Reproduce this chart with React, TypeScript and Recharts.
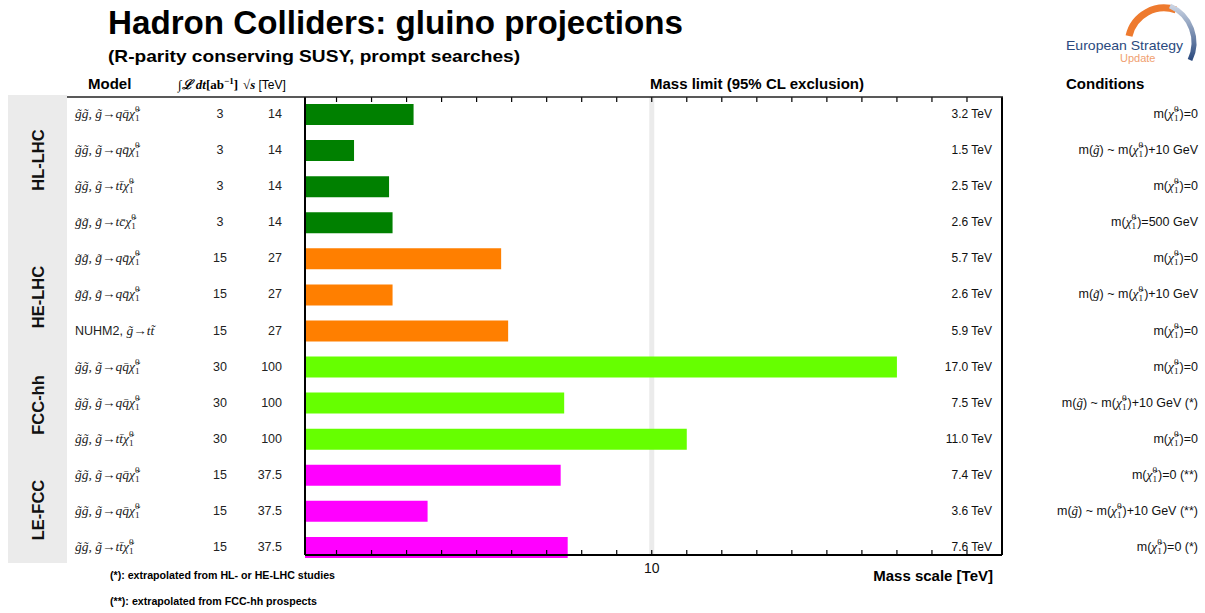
import { BarChart, Bar, XAxis, YAxis, Cell, CartesianGrid } from 'recharts'

const colliders = ['HL-LHC', 'HE-LHC', 'FCC-hh', 'LE-FCC']
const colliderColors = ['#008000', '#ff7f00', '#66ff00', '#ff00ff']
const rowCollider = [0, 0, 0, 0, 1, 1, 1, 2, 2, 2, 3, 3, 3]

const G = 'g\u0303'
const modelProd = [G + G, G + G, G + G, G + G, G + G, G + G, 'NUHM2', G + G, G + G, G + G, G + G, G + G, G + G]
const modelDecay = ['qq\u0304', 'qq\u0304', 'tt\u0304', 'tc\u0304', 'qq\u0304', 'qq\u0304', 'tt\u0303', 'qq\u0304', 'qq\u0304', 'tt\u0304', 'qq\u0304', 'qq\u0304', 'tt\u0304']
const lumi = [3, 3, 3, 3, 15, 15, 15, 30, 30, 30, 15, 15, 15]
const sqrtS = ['14', '14', '14', '14', '27', '27', '27', '100', '100', '100', '37.5', '37.5', '37.5']
const massLimit = [3.2, 1.5, 2.5, 2.6, 5.7, 2.6, 5.9, 17.0, 7.5, 11.0, 7.4, 3.6, 7.6]
// 'zero' = m(chi)=0, 'comp' = compressed, '500' = m(chi)=500 GeV
const conditionType = ['zero', 'comp', 'zero', '500', 'zero', 'comp', 'zero', 'zero', 'comp', 'zero', 'zero', 'comp', 'zero']
const conditionNote = ['', '', '', '', '', '', '', '', ' (*)', '', ' (**)', ' (**)', ' (*)']
const massTicks = [1, 2, 3, 4, 5, 6, 7, 8, 9, 10, 11, 12, 13, 14, 15, 16, 17, 18, 19]

const rows = massLimit.map((m, i) => ({ id: String(i), mass: m }))

const SANS = '"Liberation Sans", Arial, Helvetica, sans-serif'
const SERIF = '"Liberation Serif", "Times New Roman", serif'
const PLOT_TOP = 97
const CHI = '\u03c7\u0303'

// chi~_1^0 with stacked sub/superscript
function chi(size: number, after?: string) {
  const sub = size * 0.68
  return [
    <tspan key="c" fontFamily={SERIF} fontStyle="italic" fontSize={size}>{CHI}</tspan>,
    <tspan key="s" fontFamily={SERIF} fontStyle="normal" fontSize={sub} dy={3}>1</tspan>,
    <tspan key="p" fontFamily={SERIF} fontStyle="normal" fontSize={sub} dx={-sub * 0.5} dy={-9}>0</tspan>,
    after !== undefined ? <tspan key="a" dx={1} dy={6}>{after}</tspan> : null,
  ]
}

function LeftTick(props: any) {
  const { y, payload } = props
  const i = Number(payload.value)
  const nuhm = modelProd[i] === 'NUHM2'
  return (
    <g>
      <text x={75} y={y} dy={4} fontFamily={SERIF} fontStyle="italic" fontSize={13.5} fill="#222">
        {nuhm ? (
          <tspan fontFamily={SANS} fontStyle="normal" fontSize={12.5}>NUHM2, </tspan>
        ) : (
          <tspan>{modelProd[i]}, </tspan>
        )}
        <tspan>{G}{'\u2192'}{modelDecay[i]}</tspan>
        {nuhm ? null : chi(13.5)}
      </text>
      <text x={220} y={y} dy={4} textAnchor="middle" fontFamily={SANS} fontSize={12.5} fill="#222">{lumi[i]}</text>
      <text x={282} y={y} dy={4} textAnchor="end" fontFamily={SANS} fontSize={12.5} fill="#222">{sqrtS[i]}</text>
    </g>
  )
}

function RightTick(props: any) {
  const { x, y, payload } = props
  const i = Number(payload.value)
  const t = conditionType[i]
  return (
    <g>
      <text x={x - 10} y={y} dy={4} textAnchor="end" fontFamily={SANS} fontSize={12} fill="#111">
        {massLimit[i].toFixed(1)} TeV
      </text>
      <text x={1198} y={y} dy={4} textAnchor="end" fontFamily={SANS} fontSize={12.5} fill="#111">
        {t === 'comp' ? (
          <>
            <tspan>m(</tspan>
            <tspan fontFamily={SERIF} fontStyle="italic" fontSize={13}>{G}</tspan>
            <tspan>) ~ m(</tspan>
            {chi(13.5, ')+10 GeV' + conditionNote[i])}
          </>
        ) : (
          <>
            <tspan>m(</tspan>
            {chi(13.5, t === '500' ? ')=500 GeV' : ')=0' + conditionNote[i])}
          </>
        )}
      </text>
    </g>
  )
}

function MassTick(props: any) {
  const { x, y, payload } = props
  return (
    <g>
      <line x1={x} x2={x} y1={y} y2={y - 5} stroke="#000" strokeWidth={1.2} />
      <line x1={x} x2={x} y1={PLOT_TOP} y2={PLOT_TOP + 5} stroke="#000" strokeWidth={1.2} />
      {payload.value === 10 && (
        <text x={x} y={y + 18} textAnchor="middle" fontFamily={SANS} fontSize={14} fill="#111">10</text>
      )}
    </g>
  )
}

const groupCenters = [160, 297, 405, 510]

export default function App() {
  return (
    <div style={{ position: 'absolute', left: 0, top: 0, width: 1205, height: 613, background: '#fff' }}>
      <svg width={1205} height={613} style={{ position: 'absolute', left: 0, top: 0 }}>
        <rect x={8} y={95} width={59} height={468} fill="#ebebeb" />
        {colliders.map((c, k) => (
          <text key={c} transform={`translate(44, ${groupCenters[k]}) rotate(-90)`} textAnchor="middle"
            fontFamily={SANS} fontWeight="bold" fontSize={16.5} fill="#111">{c}</text>
        ))}
      </svg>
      <div style={{ position: 'absolute', left: 0, top: 0 }}>
        <BarChart width={1205} height={613} data={rows} layout="vertical" margin={{ top: PLOT_TOP, right: 0, bottom: 0, left: 0 }}>
          <CartesianGrid horizontal={false} verticalValues={[10]} stroke="#ebebeb" strokeWidth={5} />
          <XAxis type="number" dataKey="mass" domain={[0.1, 20]} ticks={massTicks} interval={0} height={58}
            axisLine={{ stroke: '#000', strokeWidth: 2 }} tickLine={false} tickSize={0} tickMargin={0}
            tick={(p: any) => <MassTick {...p} />} />
          <YAxis yAxisId="left" type="category" dataKey="id" width={305} padding={{ top: -1, bottom: -10 }}
            axisLine={{ stroke: '#000', strokeWidth: 2 }} tickLine={false} tickSize={0} tickMargin={0} interval={0}
            tick={(p: any) => <LeftTick {...p} />} />
          <YAxis yAxisId="right" orientation="right" type="category" dataKey="id" width={203} padding={{ top: -1, bottom: -10 }}
            axisLine={{ stroke: '#000', strokeWidth: 2 }} tickLine={false} tickSize={0} tickMargin={0} interval={0}
            tick={(p: any) => <RightTick {...p} />} />
          <Bar yAxisId="left" dataKey="mass" barSize={21} isAnimationActive={false}>
            {rows.map((r, i) => (
              <Cell key={r.id} fill={colliderColors[rowCollider[i]]} />
            ))}
          </Bar>
        </BarChart>
      </div>
      <svg width={1205} height={613} style={{ position: 'absolute', left: 0, top: 0, pointerEvents: 'none' }}>
        <text x={108} y={34} fontFamily={SANS} fontWeight="bold" fontSize={34} textLength={575} lengthAdjust="spacingAndGlyphs" fill="#000">
          Hadron Colliders: gluino projections
        </text>
        <text x={108} y={62} fontFamily={SANS} fontWeight="bold" fontSize={17} textLength={412} lengthAdjust="spacingAndGlyphs" fill="#000">
          (R-parity conserving SUSY, prompt searches)
        </text>
        <line x1={67} x2={1003} y1={PLOT_TOP} y2={PLOT_TOP} stroke="#222" strokeWidth={1.5} />
        <text x={88} y={89} fontFamily={SANS} fontWeight="bold" fontSize={15} fill="#000">Model</text>
        <text x={178} y={89} fontFamily={SERIF} fontWeight="bold" fontSize={13} fill="#000">
          <tspan fontStyle="italic">{'\u222b\u2112'} dt</tspan>[ab<tspan fontSize={9} dy={-5}>{'\u22121'}</tspan><tspan dy={5}>]</tspan>
        </text>
        <text x={243} y={89} fontFamily={SERIF} fontWeight="bold" fontSize={13} fill="#000">
          {'\u221a'}<tspan fontStyle="italic">s</tspan>
          <tspan fontFamily={SANS} fontWeight="normal" fontSize={12}> [TeV]</tspan>
        </text>
        <text x={650} y={89} fontFamily={SANS} fontWeight="bold" fontSize={15} fill="#000">Mass limit (95% CL exclusion)</text>
        <text x={1066} y={89} fontFamily={SANS} fontWeight="bold" fontSize={15} fill="#000">Conditions</text>
        <text x={993} y={581} textAnchor="end" fontFamily={SANS} fontWeight="bold" fontSize={15} fill="#000">Mass scale [TeV]</text>
        <text x={110} y={579} fontFamily={SANS} fontWeight="bold" fontSize={10} textLength={225} lengthAdjust="spacingAndGlyphs" fill="#000">
          (*): extrapolated from HL- or HE-LHC studies
        </text>
        <text x={110} y={605} fontFamily={SANS} fontWeight="bold" fontSize={10} textLength={207} lengthAdjust="spacingAndGlyphs" fill="#000">
          (**): extrapolated from FCC-hh prospects
        </text>
        {/* logo */}
        <defs>
          <linearGradient id="blueArc" x1="0" y1="0" x2="0" y2="1">
            <stop offset="0" stopColor="#c9d3e3" />
            <stop offset="1" stopColor="#2b4a7e" />
          </linearGradient>
        </defs>
        <path d="M 1129 36 A 36 36 0 0 1 1176 10" fill="none" stroke="#ee7a2e" strokeWidth={7} />
        <path d="M 1170 6 A 40 40 0 0 1 1190 60" fill="none" stroke="url(#blueArc)" strokeWidth={5} />
        <text x={1066} y={50} fontFamily={SANS} fontSize={13} textLength={117} lengthAdjust="spacingAndGlyphs" fill="#2b4a7e">European Strategy</text>
        <text x={1120} y={62} fontFamily={SANS} fontSize={11} fill="#f0a070">Update</text>
      </svg>
    </div>
  )
}
